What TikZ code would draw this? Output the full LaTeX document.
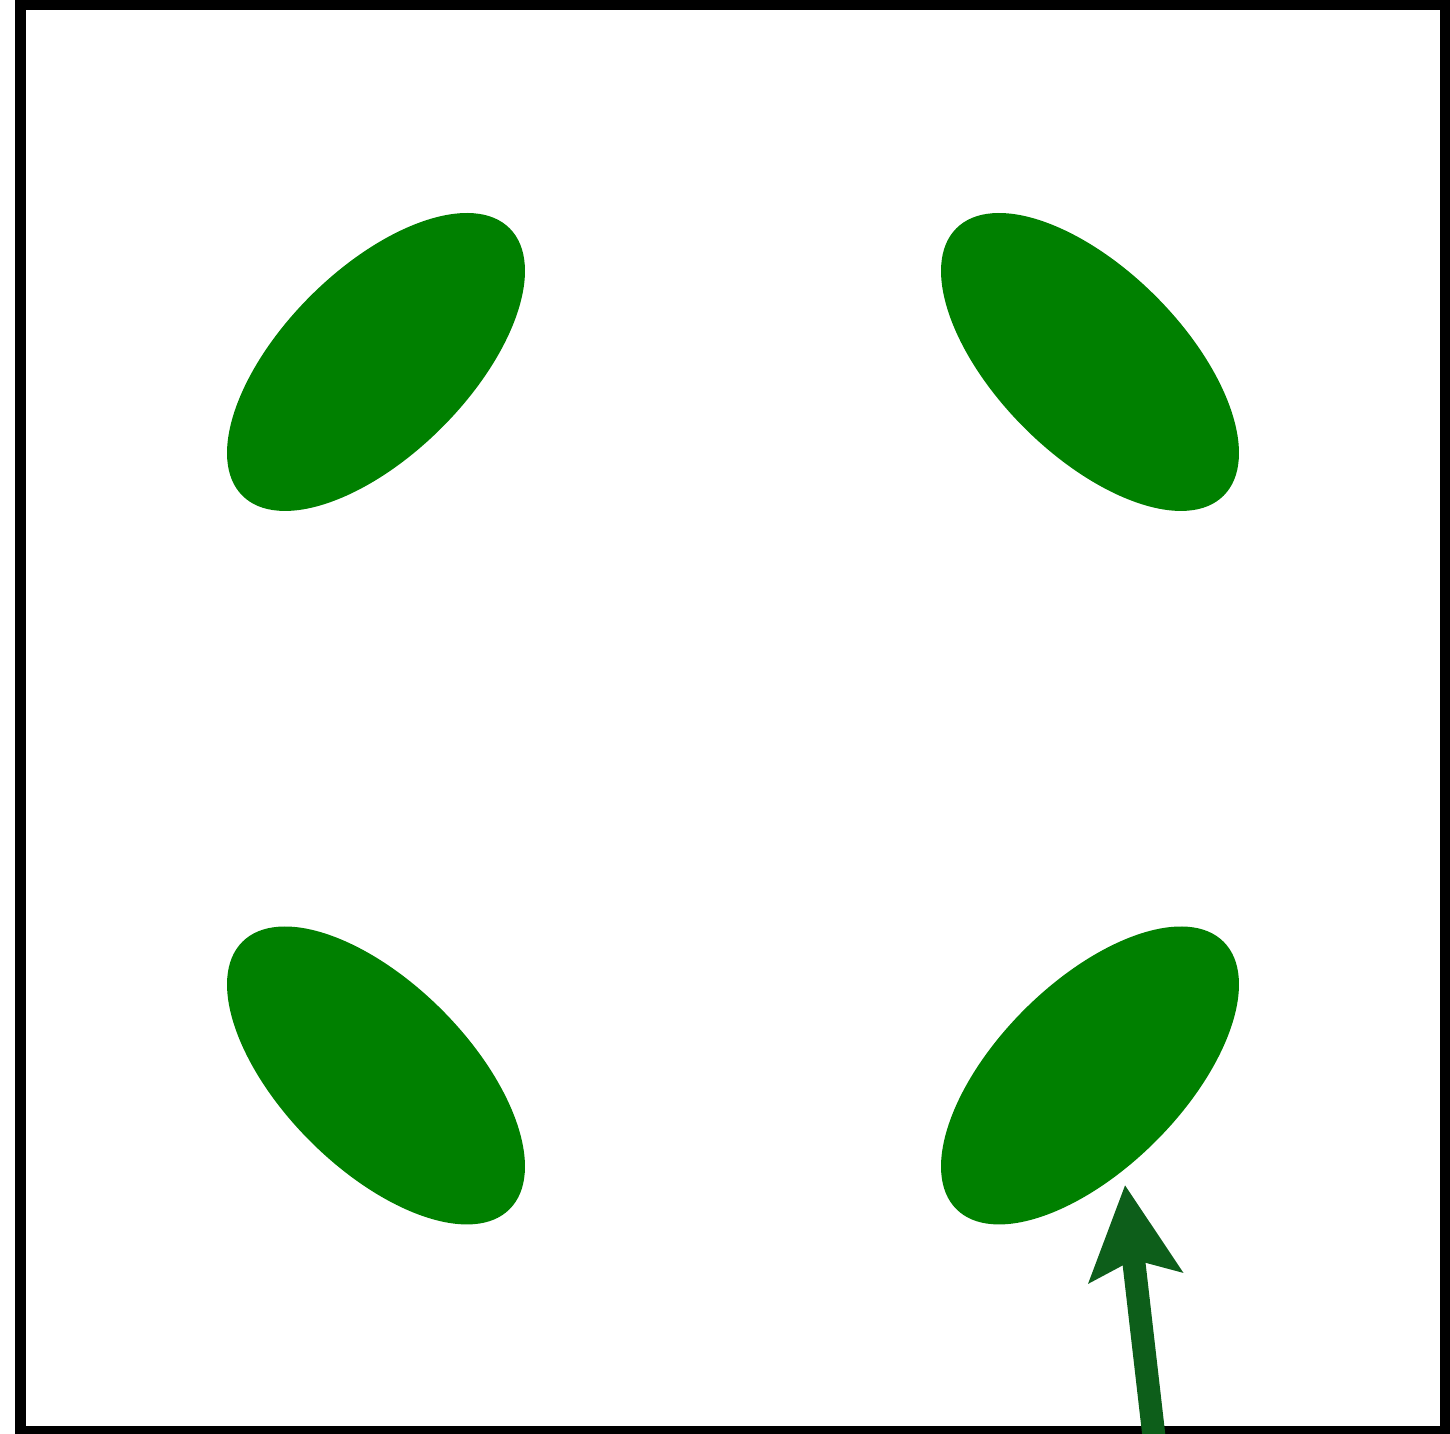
\documentclass[tikz,border=0pt]{standalone}
\usepackage{tikz}
\usetikzlibrary{arrows.meta}
\definecolor{leaf}{RGB}{0, 128, 0}
\definecolor{pointer}{RGB}{13, 94, 26}

\begin{document}
\begin{tikzpicture}[x=0.01cm, y=0.01cm, >=Stealth]
    % Canvas
    \useasboundingbox (0,0) rectangle (1450,1434);
    \clip (0,0) rectangle (1450,1434);
    \draw[line width=0.11cm] (20.5,2.5) rectangle (1445.5,1429.5);

    % Sizes of the blobs
    \def\ra{189}
    \def\rb{93}

    \coordinate (TL) at (376,1072);
    \coordinate (TR) at (1090,1072);
    \coordinate (BL) at (376,358.5);
    \coordinate (BR) at (1090,358.5);

    % Blobs
    \fill[leaf, rotate around={45:(TL)}] (TL) ellipse ({\ra} and {\rb});
    \fill[leaf, rotate around={-45:(TR)}] (TR) ellipse ({\ra} and {\rb});
    \fill[leaf, rotate around={-45:(BL)}] (BL) ellipse ({\ra} and {\rb});
    \fill[leaf, rotate around={45:(BR)}] (BR) ellipse ({\ra} and {\rb});

    % Pointer
    \coordinate (tail) at (1156,-20);
    \coordinate (tip) at (1125,249);
    \draw[pointer, line width=0.23cm,
        -{Stealth[length=0.92cm, width=0.92cm, inset=0.17cm]}] (tail) -- (tip);
\end{tikzpicture}
\end{document}
